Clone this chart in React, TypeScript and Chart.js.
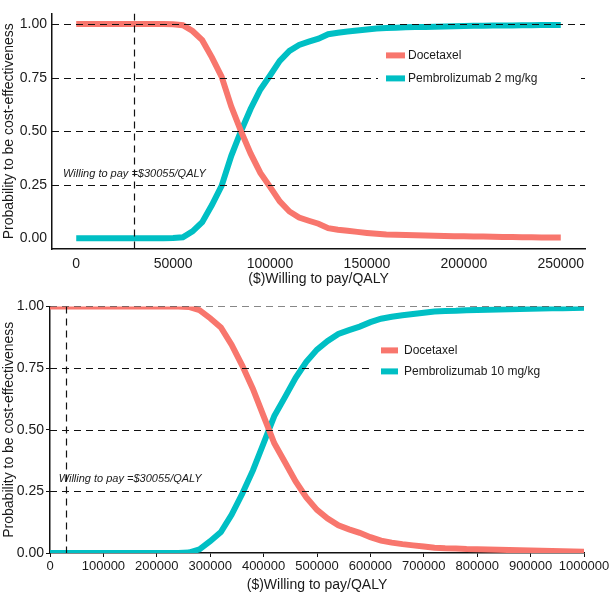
import React, { useEffect, useRef } from 'react';
import { Chart, registerables } from 'chart.js';

Chart.register(...registerables);

const FONT = "'Liberation Sans', Arial, Helvetica, sans-serif";
const RED = '#F8766D';
const TEAL = '#00BFC4';
const INK = '#1a1a1a';

const seriesNames = ['Docetaxel', 'Pembrolizumab 2 mg/kg', 'Pembrolizumab 10 mg/kg'];
const axisTitleX = '($)Willing to pay/QALY';
const axisTitleY = 'Probability to be cost-effectiveness';
const wtpLabel = 'Willing to pay =$30055/QALY';
const wtpThreshold = 30055;
const refLevels = [0.25, 0.5, 0.75, 1.0];
const yTickValues = [0, 0.25, 0.5, 0.75, 1.0];

// ---- Top panel (Pembrolizumab 2 mg/kg) ----
const wtpTop = [
  0, 5000, 10000, 15000, 20000, 25000, 30000, 35000, 40000, 45000,
  50000, 55000, 60000, 65000, 70000, 75000, 80000, 85000, 90000, 95000,
  100000, 105000, 110000, 115000, 120000, 125000, 130000, 135000, 140000, 145000,
  150000, 155000, 160000, 165000, 170000, 175000, 180000, 185000, 190000, 195000,
  200000, 205000, 210000, 215000, 220000, 225000, 230000, 235000, 240000, 245000,
  250000,
];
const docetaxelTop = [
  1.0, 1.0, 1.0, 1.0, 1.0, 1.0, 1.0, 1.0, 1.0, 1.0,
  0.999, 0.995, 0.968, 0.925, 0.845, 0.755, 0.615, 0.5, 0.395, 0.305,
  0.24, 0.172, 0.125, 0.097, 0.082, 0.068, 0.047, 0.04, 0.035, 0.03,
  0.025, 0.021, 0.018, 0.017, 0.015, 0.014, 0.013, 0.012, 0.011, 0.01,
  0.009, 0.008, 0.008, 0.007, 0.006, 0.006, 0.005, 0.005, 0.004, 0.004,
  0.004,
];
const pembro2Top = [
  0, 0, 0, 0, 0, 0, 0, 0, 0, 0,
  0.001, 0.005, 0.032, 0.075, 0.155, 0.245, 0.385, 0.5, 0.605, 0.695,
  0.76, 0.828, 0.875, 0.903, 0.918, 0.932, 0.953, 0.96, 0.965, 0.97,
  0.975, 0.979, 0.982, 0.983, 0.985, 0.986, 0.987, 0.988, 0.989, 0.99,
  0.991, 0.992, 0.992, 0.993, 0.994, 0.994, 0.995, 0.995, 0.996, 0.996,
  0.996,
];
const xTicksTop = [0, 50000, 100000, 150000, 200000, 250000];

// ---- Bottom panel (Pembrolizumab 10 mg/kg) ----
const wtpBottom = [
  0, 20000, 40000, 60000, 80000, 100000, 120000, 140000, 160000, 180000,
  200000, 220000, 240000, 260000, 280000, 300000, 320000, 340000, 360000, 380000,
  400000, 420000, 440000, 460000, 480000, 500000, 520000, 540000, 560000, 580000,
  600000, 620000, 640000, 660000, 680000, 700000, 720000, 740000, 760000, 780000,
  800000, 820000, 840000, 860000, 880000, 900000, 920000, 940000, 960000, 980000,
  1000000,
];
const docetaxelBottom = [
  1.0, 1.0, 1.0, 1.0, 1.0, 1.0, 1.0, 1.0, 1.0, 1.0,
  1.0, 1.0, 1.0, 0.998, 0.985, 0.952, 0.915, 0.845, 0.76, 0.665,
  0.555, 0.445, 0.368, 0.29, 0.225, 0.175, 0.14, 0.112, 0.096, 0.082,
  0.064, 0.05, 0.042, 0.036, 0.031, 0.026, 0.021, 0.019, 0.018, 0.016,
  0.015, 0.014, 0.013, 0.012, 0.011, 0.01, 0.009, 0.008, 0.007, 0.006,
  0.005,
];
const pembro10Bottom = [
  0, 0, 0, 0, 0, 0, 0, 0, 0, 0,
  0, 0, 0, 0.002, 0.015, 0.048, 0.085, 0.155, 0.24, 0.335,
  0.445, 0.555, 0.632, 0.71, 0.775, 0.825, 0.86, 0.888, 0.904, 0.918,
  0.936, 0.95, 0.958, 0.964, 0.969, 0.974, 0.979, 0.981, 0.982, 0.984,
  0.985, 0.986, 0.987, 0.988, 0.989, 0.99, 0.991, 0.992, 0.993, 0.994,
  0.995,
];
const xTicksBottom = [0, 100000, 200000, 300000, 400000, 500000, 600000, 700000, 800000, 900000, 1000000];

const overlayPlugin = {
  id: 'overlay',
  afterDatasetsDraw(chart: any, _args: any, opts: any) {
    const { ctx, chartArea: ca, scales } = chart;
    const x = scales.x;
    const y = scales.y;
    ctx.save();
    ctx.beginPath();
    ctx.rect(ca.left, ca.top, ca.right - ca.left, ca.bottom - ca.top);
    ctx.clip();
    // annotation text
    ctx.font = `italic 11px ${FONT}`;
    ctx.fillStyle = INK;
    ctx.textAlign = 'center';
    ctx.textBaseline = 'middle';
    ctx.fillText(opts.text, x.getPixelForValue(opts.textX), y.getPixelForValue(opts.textY));
    // reference lines
    ctx.strokeStyle = '#111';
    ctx.lineWidth = 1.2;
    ctx.setLineDash([7, 5]);
    for (const v of opts.hLines) {
      const py = Math.round(y.getPixelForValue(v)) + 0.5;
      ctx.beginPath();
      ctx.moveTo(ca.left, py);
      ctx.lineTo(ca.right, py);
      ctx.stroke();
    }
    const px = Math.round(x.getPixelForValue(opts.vLine)) + 0.5;
    ctx.beginPath();
    ctx.moveTo(px, ca.top);
    ctx.lineTo(px, ca.bottom);
    ctx.stroke();
    ctx.restore();
  },
  afterDraw(chart: any, _args: any, opts: any) {
    const { ctx, chartArea: ca } = chart;
    const lg = opts.legend;
    ctx.save();
    ctx.fillStyle = '#ffffff';
    ctx.fillRect(ca.right - lg.boxRight, ca.top + lg.boxTop, lg.boxW, lg.boxH);
    const x0 = ca.right - lg.dx;
    chart.data.datasets.forEach((ds: any, i: number) => {
      const yy = ca.top + lg.dy + i * lg.spacing;
      ctx.strokeStyle = ds.borderColor;
      ctx.lineWidth = 6;
      ctx.setLineDash([]);
      ctx.beginPath();
      ctx.moveTo(x0, yy);
      ctx.lineTo(x0 + lg.lineLen, yy);
      ctx.stroke();
      ctx.fillStyle = INK;
      ctx.font = `12px ${FONT}`;
      ctx.textAlign = 'left';
      ctx.textBaseline = 'middle';
      ctx.fillText(ds.label, x0 + lg.lineLen + lg.gap, yy);
    });
    ctx.restore();
  },
};

function makeConfig(p: any) {
  return {
    type: 'line',
    data: {
      datasets: [
        {
          label: seriesNames[0],
          data: p.xs.map((x: number, i: number) => ({ x, y: p.red[i] })),
          borderColor: RED,
          backgroundColor: RED,
          borderWidth: 6,
          pointRadius: 0,
          tension: 0,
          clip: 0,
        },
        {
          label: p.tealName,
          data: p.xs.map((x: number, i: number) => ({ x, y: p.teal[i] })),
          borderColor: TEAL,
          backgroundColor: TEAL,
          borderWidth: 6,
          pointRadius: 0,
          tension: 0,
          clip: 0,
        },
      ],
    },
    options: {
      responsive: false,
      animation: false,
      events: [],
      layout: { padding: { left: 0, right: p.padRight, top: p.padTop, bottom: 0 } },
      plugins: {
        legend: { display: false },
        tooltip: { enabled: false },
        overlay: {
          hLines: refLevels,
          vLine: wtpThreshold,
          text: wtpLabel,
          textX: p.textX,
          textY: 0.3,
          legend: p.legend,
        },
      },
      scales: {
        x: {
          type: 'linear',
          min: p.xMin,
          max: p.xMax,
          afterBuildTicks: (s: any) => {
            s.ticks = p.xTicks.map((v: number) => ({ value: v }));
          },
          afterFit: (s: any) => {
            s.height = p.xAxisH;
          },
          ticks: {
            callback: (v: any) => String(v),
            font: { family: FONT, size: p.xTickSize },
            color: INK,
            padding: p.xTickPad,
            maxRotation: 0,
            autoSkip: false,
          },
          grid: {
            display: p.ticksOn,
            drawOnChartArea: false,
            drawTicks: p.ticksOn,
            tickLength: 4,
            color: '#111',
          },
          border: { display: true, color: '#111', width: 1.5 },
          title: {
            display: true,
            text: axisTitleX,
            font: { family: FONT, size: 14 },
            color: INK,
            padding: { top: 0, bottom: p.xTitlePad },
          },
        },
        y: {
          type: 'linear',
          min: p.yMin,
          max: p.yMax,
          afterBuildTicks: (s: any) => {
            s.ticks = yTickValues.map((v) => ({ value: v }));
          },
          afterFit: (s: any) => {
            s.width = p.yAxisW;
          },
          ticks: {
            callback: (v: any) => Number(v).toFixed(2),
            font: { family: FONT, size: 14 },
            color: INK,
            padding: p.yTickPad,
          },
          grid: {
            display: p.ticksOn,
            drawOnChartArea: false,
            drawTicks: p.ticksOn,
            tickLength: 4,
            color: '#111',
          },
          border: { display: true, color: '#111', width: 1.5 },
          title: {
            display: true,
            text: axisTitleY,
            font: { family: FONT, size: 14 },
            color: INK,
            padding: { top: 1, bottom: 0 },
          },
        },
      },
    },
    plugins: [overlayPlugin],
  };
}

function ChartCanvas({ config, width, height }: { config: any; width: number; height: number }) {
  const ref = useRef<HTMLCanvasElement | null>(null);
  useEffect(() => {
    if (!ref.current) return;
    const chart = new Chart(ref.current, config);
    return () => chart.destroy();
  }, [config]);
  return <canvas ref={ref} width={width} height={height} style={{ display: 'block', width, height }} />;
}

const topConfig = makeConfig({
  xs: wtpTop,
  red: docetaxelTop,
  teal: pembro2Top,
  tealName: seriesNames[1],
  xMin: -12500,
  xMax: 262500,
  yMin: -0.05,
  yMax: 1.05,
  xTicks: xTicksTop,
  padRight: 31,
  padTop: 1,
  xAxisH: 47,
  yAxisW: 52,
  xTickSize: 14,
  xTickPad: 7,
  yTickPad: 5,
  xTitlePad: 8,
  ticksOn: false,
  textX: 30055,
  legend: { dx: 199, dy: 42, spacing: 23, lineLen: 19, gap: 3, boxRight: 207, boxTop: 27, boxW: 203, boxH: 55 },
});

const bottomConfig = makeConfig({
  xs: wtpBottom,
  red: docetaxelBottom,
  teal: pembro10Bottom,
  tealName: seriesNames[2],
  xMin: 0,
  xMax: 1000000,
  yMin: 0,
  yMax: 1,
  xTicks: xTicksBottom,
  padRight: 32,
  padTop: 8,
  xAxisH: 43,
  yAxisW: 50,
  xTickSize: 13,
  xTickPad: 2,
  yTickPad: 2,
  xTitlePad: 2,
  ticksOn: true,
  textX: 150000,
  legend: { dx: 203, dy: 44, spacing: 21, lineLen: 17, gap: 6, boxRight: 213, boxTop: 30, boxW: 260, boxH: 50 },
});

export default function App() {
  return (
    <div style={{ position: 'absolute', left: 0, top: 0, width: 616, height: 596, background: '#fff' }}>
      <ChartCanvas config={topConfig} width={616} height={296} />
      <ChartCanvas config={bottomConfig} width={616} height={300} />
    </div>
  );
}
